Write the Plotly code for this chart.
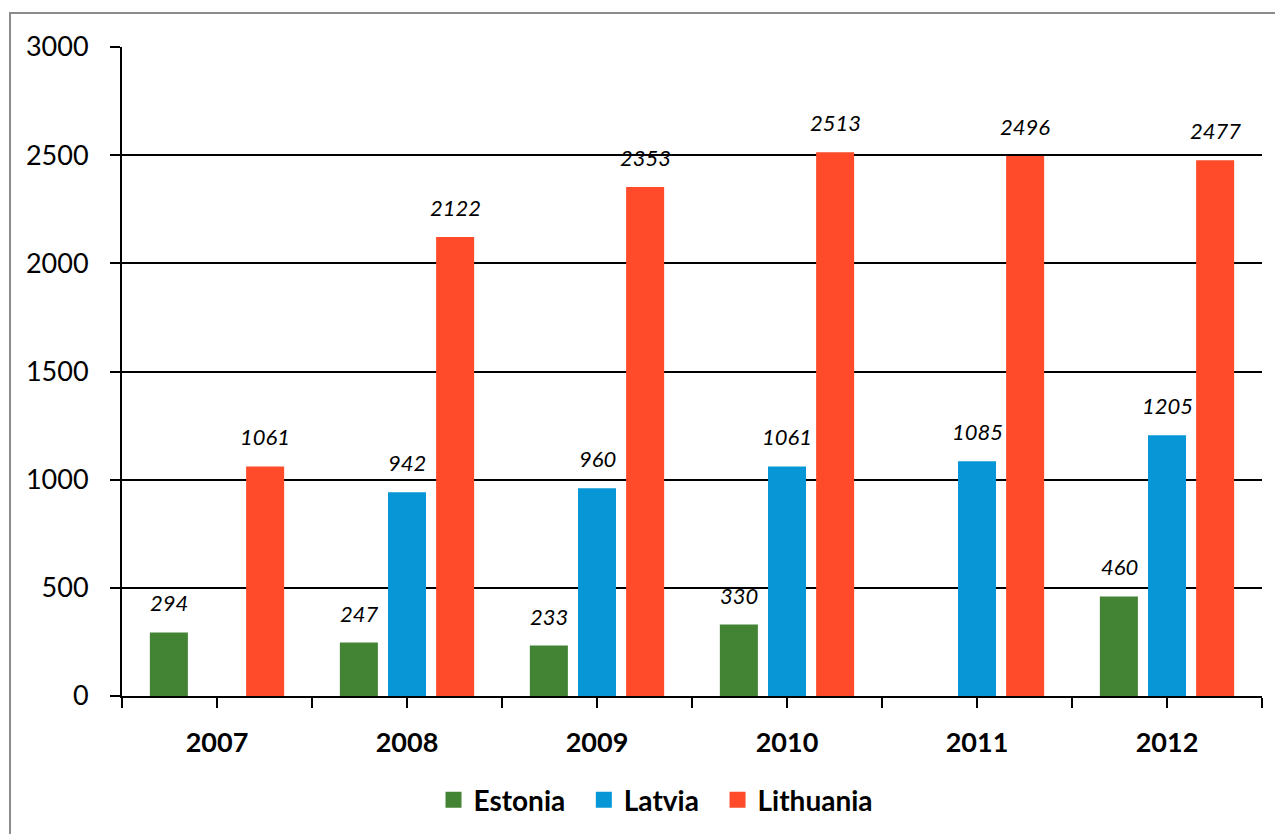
import plotly.graph_objects as go

years = [2007, 2008, 2009, 2010, 2011, 2012]
estonia = [294, 247, 233, 330, None, 460]
latvia = [None, 942, 960, 1061, 1085, 1205]
lithuania = [1061, 2122, 2353, 2513, 2496, 2477]

FONT = "Lato"
series = [
    ("Estonia", estonia, "#438334"),
    ("Latvia", latvia, "#0797D6"),
    ("Lithuania", lithuania, "#FF4B29"),
]

# page body has an 8px margin, so figure px = screen px - 8
OFF = 8
L, R, T, B = 122 - OFF, 1262 - OFF, 47 - OFF, 696 - OFF
W, H = 1283, 834
pw, ph = R - L, B - T
slot = 48  # px between bar centres inside a group

fig = go.Figure()
annotations = []
for i, (name, vals, col) in enumerate(series):
    fig.add_trace(go.Bar(
        x=years, y=vals, name=name, showlegend=False,
        marker=dict(color=col, line=dict(width=0)),
    ))
    # legend entry with a bigger square (nbsp padding widens the gaps)
    pad = "\u00a0\u00a0" if i < len(series) - 1 else ""
    fig.add_trace(go.Scatter(
        x=[None], y=[None], mode="markers", name=name + pad,
        marker=dict(symbol="square", size=18, color=col),
    ))
    for yr, v in zip(years, vals):
        if v is None:
            continue
        annotations.append(dict(
            x=yr, y=v, xref="x", yref="y", text=str(v), showarrow=False,
            xshift=(i - 1) * slot, yshift=14, yanchor="bottom",
            font=dict(family=FONT, size=22, color="black", style="italic"),
        ))

fig.update_layout(
    width=W, height=H, autosize=False,
    margin=dict(l=L, r=W - R, t=T, b=H - B),
    paper_bgcolor="white", plot_bgcolor="white",
    barmode="group", bargap=0.24, bargroupgap=0.21,
    font=dict(family=FONT, color="black"),
    showlegend=True,
    legend=dict(orientation="h", x=(656 - OFF - L) / pw, xanchor="center",
                y=(B - (800 - OFF)) / ph, yanchor="middle", itemsizing="trace",
                font=dict(family=FONT, size=28, weight="bold"),
                itemwidth=30, tracegroupgap=0),
    annotations=annotations,
    xaxis=dict(
        range=[2006.5, 2012.5], tickmode="array", tickvals=years,
        ticktext=[str(y) for y in years], automargin=False,
        showline=True, linecolor="black", linewidth=2,
        ticks="outside", ticklen=10, tickwidth=2, tickcolor="black",
        minor=dict(ticks="outside", ticklen=10, tickwidth=2, tickcolor="black",
                   tickmode="array", tickvals=[y + 0.5 for y in [2006] + years]),
        showgrid=False, zeroline=False,
        tickfont=dict(family=FONT, size=27, weight="bold"),
        ticklabelstandoff=12,
    ),
    yaxis=dict(
        range=[0, 3000], dtick=500, tick0=0, automargin=False,
        showline=True, linecolor="black", linewidth=2,
        showgrid=True, gridcolor="black", gridwidth=1.5,
        ticks="outside", ticklen=10, tickwidth=1.5, tickcolor="black",
        zeroline=False,
        tickfont=dict(family=FONT, size=27),
        ticklabelstandoff=16,
    ),
    shapes=[dict(type="rect", xref="paper", yref="paper",
                 x0=(10 - OFF - L) / pw, x1=(1300 - L) / pw,
                 y0=(B - 850) / ph, y1=(B - (13 - OFF)) / ph,
                 line=dict(color="#8c8c8c", width=2), layer="below")],
)

fig.write_html("out.html")
